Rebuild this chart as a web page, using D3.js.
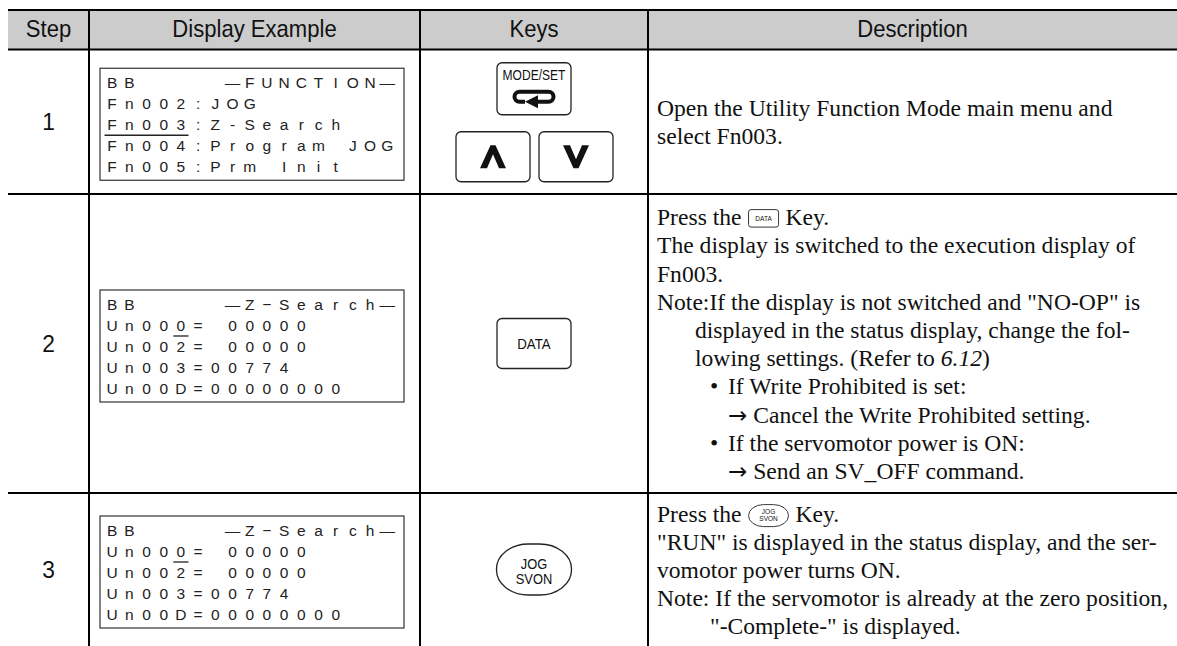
<!DOCTYPE html>
<html><head><meta charset="utf-8">
<script src="https://cdn.jsdelivr.net/npm/d3@7"></script>
<style>body{margin:0;background:#fff}svg{display:block}</style>
</head><body>
<svg id="c" width="1177" height="646"></svg>
<script>
// ---------- data ----------
const headers = ["Step", "Display Example", "Keys", "Description"];
const steps = ["1", "2", "3"];
const lcdLines = [
  ["BB     \u2014FUNCTION\u2014", "Fn002:JOG", "Fn003:Z-Search", "Fn004:Program JOG", "Fn005:Prm Init"],
  ["BB     \u2014Z\u2212Search\u2014", "Un000= 00000", "Un002= 00000", "Un003=00774", "Un00D=00000000"],
  ["BB     \u2014Z\u2212Search\u2014", "Un000= 00000", "Un002= 00000", "Un003=00774", "Un00D=00000000"]
];
const lcdCursor = [{line: 2, from: 0, to: 4}, {line: 1, from: 4, to: 4}, {line: 1, from: 4, to: 4}];
const keySets = [["MODE/SET", "UP", "DOWN"], ["DATA"], ["JOG/SVON"]];
const descriptions = [
  [
    {i: 0, s: ["Open the Utility Function Mode main menu and"]},
    {i: 0, s: ["select Fn003."]}
  ],
  [
    {i: 0, s: ["Press the", {icon: "DATA"}, "Key."]},
    {i: 0, s: ["The display is switched to the execution display of"]},
    {i: 0, s: ["Fn003."]},
    {i: 0, s: ["Note:If the display is not switched and \"NO-OP\" is"]},
    {i: 1, s: ["displayed in the status display, change the fol-"]},
    {i: 1, s: ["lowing settings. (Refer to ", {it: "6.12"}, ")"]},
    {i: 3, bullet: true, s: ["If Write Prohibited is set:"]},
    {i: 3, s: [{arrow: "\u2192"}, " Cancel the Write Prohibited setting."]},
    {i: 3, bullet: true, s: ["If the servomotor power is ON:"]},
    {i: 3, s: [{arrow: "\u2192"}, " Send an SV_OFF command."]}
  ],
  [
    {i: 0, s: ["Press the", {icon: "JOG"}, "Key."]},
    {i: 0, s: ["\"RUN\" is displayed in the status display, and the ser-"]},
    {i: 0, s: ["vomotor power turns ON."]},
    {i: 0, s: ["Note: If the servomotor is already at the zero position,"]},
    {i: 2, s: ["\"-Complete-\" is displayed."]}
  ]
];

// ---------- layout ----------
const W = 1177, H = 646;
const colEdges = [8, 89, 420, 648, 1177];
const rowEdges = [10, 49.5, 194, 493, 646];
const SANS = "'Liberation Sans', Arial, Helvetica, sans-serif";
const SERIF = "'Liberation Serif', 'Times New Roman', serif";
const INK = "#111";

const svg = d3.select("#c");
const colMid = i => (colEdges[i] + colEdges[i + 1]) / 2;
const rowMid = r => (rowEdges[r + 1] + rowEdges[r + 2]) / 2;

// header background
svg.append("rect").attr("x", colEdges[0]).attr("y", rowEdges[0])
  .attr("width", colEdges[4] - colEdges[0]).attr("height", rowEdges[1] - rowEdges[0])
  .attr("fill", "#cccccc");

svg.selectAll("text.hdr").data(headers).join("text").attr("class", "hdr")
  .attr("transform", (d, i) => `translate(${colMid(i)},36.5) scale(0.92,1)`)
  .attr("text-anchor", "middle").attr("font-family", SANS).attr("font-size", 24)
  .attr("fill", INK).text(d => d);

// step numbers
svg.selectAll("text.step").data(steps).join("text").attr("class", "step")
  .attr("transform", (d, i) => `translate(${colMid(0)},${rowMid(i) + 8.5}) scale(0.95,1)`)
  .attr("text-anchor", "middle").attr("font-family", SANS).attr("font-size", 24)
  .attr("fill", INK).text(d => d);

// ---------- LCD displays ----------
const lcdX = d3.scaleLinear().domain([0, 17]).range([103.5, 103.5 + 17 * 17.2]);
const lcdBoxW = 304, lcdBoxH = 112, lcdLineGap = 21;
lcdLines.forEach((lines, r) => {
  const top = rowMid(r) - lcdBoxH / 2 + 2.5;
  const g = svg.append("g");
  g.append("rect").attr("x", 100).attr("y", top).attr("width", lcdBoxW).attr("height", lcdBoxH)
    .attr("fill", "none").attr("stroke", "#333").attr("stroke-width", 1.2);
  const lineY = d3.scaleLinear().domain([0, 1]).range([top + 14.5, top + 14.5 + lcdLineGap]);
  lines.forEach((ln, li) => {
    const chars = Array.from(ln).map((c, ci) => ({c, ci})).filter(d => d.c !== " ");
    g.selectAll(null).data(chars).join("text")
      .attr("x", d => (lcdX(d.ci) + lcdX(d.ci + 1)) / 2)
      .attr("y", lineY(li) + 5.7)
      .attr("text-anchor", "middle").attr("font-family", SANS).attr("font-size", 15.5)
      .attr("fill", "#222").text(d => d.c);
  });
  const cur = lcdCursor[r];
  g.append("line").attr("x1", lcdX(cur.from) + 1).attr("x2", lcdX(cur.to + 1) - 1)
    .attr("y1", lineY(cur.line) + 10.5).attr("y2", lineY(cur.line) + 10.5)
    .attr("stroke", "#222").attr("stroke-width", 1.3);
});

// ---------- keys ----------
function keyBox(g, x, y, w, h, rx, ry) {
  return g.append("rect").attr("x", x).attr("y", y).attr("width", w).attr("height", h)
    .attr("rx", rx).attr("ry", ry === undefined ? rx : ry)
    .attr("fill", "#fff").attr("stroke", "#222").attr("stroke-width", 1.3);
}
function label(g, x, y, t, size, sx) {
  return g.append("text").attr("transform", `translate(${x},${y}) scale(${sx || 1},1)`)
    .attr("text-anchor", "middle")
    .attr("font-family", SANS).attr("font-size", size)
    .attr("fill", INK).text(t);
}
const kcx = colMid(2);
keySets.forEach((keys, r) => {
  const g = svg.append("g");
  const cy = rowMid(r);
  if (keys.length === 3) {
    const top = cy - 59;
    // MODE/SET
    keyBox(g, kcx - 37, top, 74, 52, 5);
    label(g, kcx, top + 17, keys[0], 14, 0.86);
    const ix = kcx, iy = top + 34, hw = 19.5, hh = 5;
    g.append("path")
      .attr("d", `M${ix + 3},${iy + hh} L${ix + hw - hh},${iy + hh} A${hh},${hh} 0 0 0 ${ix + hw - hh},${iy - hh} L${ix - hw + hh},${iy - hh} A${hh},${hh} 0 0 0 ${ix - hw + hh},${iy + hh} L${ix - 9},${iy + hh}`)
      .attr("fill", "none").attr("stroke", "#111").attr("stroke-width", 4);
    g.append("path")
      .attr("d", `M${ix - 9},${iy + hh} L${ix + 4},${iy + hh - 6.5} L${ix + 4},${iy + hh + 6.5} Z`)
      .attr("fill", "#111");
    // arrows
    const aTop = top + 69;
    [[-78, 1], [5, -1]].forEach(([dx, dir]) => {
      const bx = kcx + dx;
      keyBox(g, bx, aTop, 74, 50, 5);
      const cx = bx + 37, my = aTop + 25;
      const t = my - 11.5 * dir, b = my + 11.5 * dir;
      g.append("path")
        .attr("d", `M${cx - 2.5},${t} L${cx + 2.5},${t} L${cx + 13},${b} L${cx + 6},${b} L${cx},${t + 9 * dir} L${cx - 6},${b} L${cx - 13},${b} Z`)
        .attr("fill", "#111");
    });
  } else if (keys[0] === "DATA") {
    keyBox(g, kcx - 37, cy - 25, 74, 50, 5);
    label(g, kcx, cy + 5, "DATA", 14, 0.95);
  } else {
    keyBox(g, kcx - 37.5, cy - 25.5, 75, 51, 32, 25);
    const parts = keys[0].split("/");
    label(g, kcx, cy - 1, parts[0], 14, 0.92);
    label(g, kcx, cy + 14.5, parts[1], 14, 0.92);
  }
});

// ---------- descriptions ----------
const descX0 = colEdges[3] + 9;
const indents = [0, 38, 53, 71];
const descLH = 28.2, descSize = 23.6;
function inlineIcon(g, kind, x, base) {
  if (kind === "DATA") {
    g.append("rect").attr("x", x).attr("y", base - 15.5).attr("width", 30).attr("height", 17.5)
      .attr("rx", 2.5).attr("fill", "#fff").attr("stroke", "#222").attr("stroke-width", 0.9);
    g.append("text").attr("x", x + 15).attr("y", base - 4.5).attr("text-anchor", "middle")
      .attr("font-family", SANS).attr("font-size", 6.5).attr("fill", INK).text("DATA");
    return 30;
  } else {
    g.append("rect").attr("x", x).attr("y", base - 17).attr("width", 40).attr("height", 22)
      .attr("rx", 15).attr("ry", 11).attr("fill", "#fff").attr("stroke", "#222").attr("stroke-width", 0.9);
    g.append("text").attr("x", x + 20).attr("y", base - 7.3).attr("text-anchor", "middle")
      .attr("font-family", SANS).attr("font-size", 6.5).attr("fill", INK).text("JOG");
    g.append("text").attr("x", x + 20).attr("y", base - 0.5).attr("text-anchor", "middle")
      .attr("font-family", SANS).attr("font-size", 6.5).attr("fill", INK).text("SVON");
    return 40;
  }
}
descriptions.forEach((lines, r) => {
  const g = svg.append("g").attr("font-family", SERIF).attr("font-size", descSize).attr("fill", INK);
  const first = rowMid(r) - (lines.length - 1) * descLH / 2 + 8.5;
  lines.forEach((ln, li) => {
    const base = first + li * descLH;
    const x = descX0 + indents[ln.i];
    if (ln.bullet) {
      g.append("text").attr("x", descX0 + indents[2]).attr("y", base).text("\u2022");
    }
    if (ln.s.some(s => s.icon)) {
      let cx = x;
      ln.s.forEach(s => {
        if (typeof s === "string") {
          const t = g.append("text").attr("x", cx).attr("y", base).text(s);
          cx += t.node().getComputedTextLength() + 7;
        } else {
          cx += inlineIcon(g, s.icon, cx, base) + 7;
        }
      });
    } else {
      const t = g.append("text").attr("x", x).attr("y", base).style("white-space", "pre");
      ln.s.forEach(s => {
        if (typeof s === "string") t.append("tspan").text(s);
        else if (s.it) t.append("tspan").attr("font-style", "italic").text(s.it);
        else t.append("tspan").attr("font-family", "'DejaVu Sans', sans-serif")
          .attr("font-size", 23).text(s.arrow);
      });
    }
  });
});

// ---------- grid lines ----------
svg.selectAll("line.h").data(rowEdges.slice(0, 4)).join("line").attr("class", "h")
  .attr("x1", colEdges[0]).attr("x2", colEdges[4]).attr("y1", d => d).attr("y2", d => d)
  .attr("stroke", "#000").attr("stroke-width", 2);
svg.selectAll("line.v").data(colEdges.slice(1, 4)).join("line").attr("class", "v")
  .attr("x1", d => d).attr("x2", d => d).attr("y1", rowEdges[0]).attr("y2", H)
  .attr("stroke", "#000").attr("stroke-width", 2);
</script>
</body></html>
